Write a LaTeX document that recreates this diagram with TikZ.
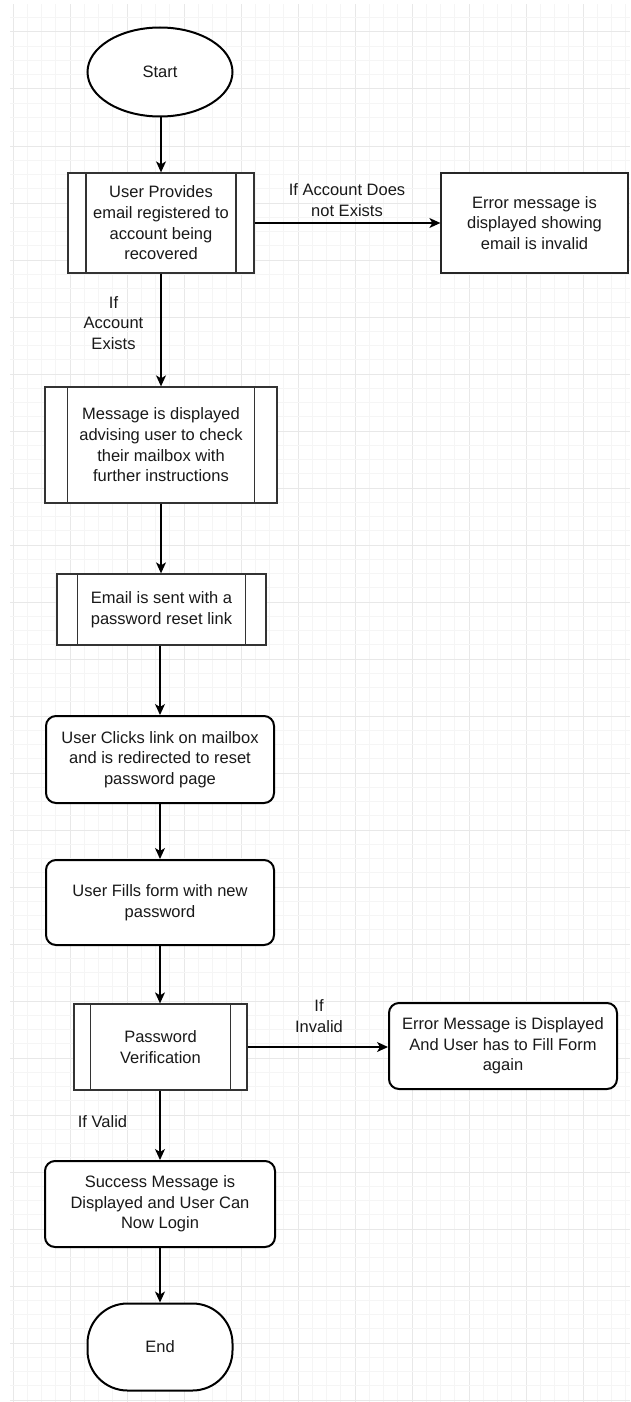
\documentclass[tikz,border=0pt]{standalone}
\usepackage{fontspec}
\setmainfont{Liberation Sans}
\usetikzlibrary{arrows.meta,calc,shapes.geometric}
\tikzset{
  every node/.style={font=\fontsize{16.5}{20.7}\selectfont, text=black!90, align=center, inner sep=0pt},
  minorgrid/.style={draw=black!4, line width=0.8pt},
  majorgrid/.style={draw=black!9, line width=1pt},
  procbox/.style={draw=black!80, line width=1.3pt, fill=white, rectangle},
  roundbox/.style={draw=black, line width=2pt, fill=white, rectangle, rounded corners=10pt},
  plainbox/.style={draw=black!85, line width=1.3pt, fill=white, rectangle},
  termstart/.style={draw=black, line width=2pt, fill=white, ellipse},
  termend/.style={draw=black, line width=2pt, fill=white, rectangle, rounded corners=40pt},
  flow/.style={draw=black, line width=1.3pt, -{Stealth[length=11pt,width=10pt,inset=3pt]}},
  bar/.style={draw=black!80, line width=1.3pt},
  lbl/.style={fill=none}
}
\newcommand{\procbars}[2]{%
  \draw[bar] ($(#1.north west)+(#2,0)$) -- ($(#1.south west)+(#2,0)$);
  \draw[bar] ($(#1.north east)+(-#2,0)$) -- ($(#1.south east)+(-#2,0)$);
}
\begin{document}
\begin{tikzpicture}[x=1pt,y=-1pt]
\useasboundingbox (0,0) rectangle (630,1402);
\fill[white] (0,0) rectangle (630,1402);
% grid
\begin{scope}
\clip (10,5) rectangle (630,1402);
\foreach \i in {0,...,43} {
  \pgfmathsetmacro{\xx}{13+14.25*\i}
  \pgfmathtruncatemacro{\m}{mod(\i,4)}
  \ifnum\m=0 \draw[majorgrid] (\xx,0) -- (\xx,1402);
  \else \draw[minorgrid] (\xx,0) -- (\xx,1402); \fi
}
\foreach \i in {0,...,98} {
  \pgfmathsetmacro{\yy}{3.5+14.25*\i}
  \pgfmathtruncatemacro{\m}{mod(\i+2,4)}
  \ifnum\m=0 \draw[majorgrid] (0,\yy) -- (630,\yy);
  \else \draw[minorgrid] (0,\yy) -- (630,\yy); \fi
}
\end{scope}

% nodes
\node[termstart, minimum width=145pt, minimum height=89pt] (start) at (160,72) {Start};
\node[procbox, minimum width=186pt, minimum height=100pt] (b1) at (161,223) {User Provides\\email registered to\\account being\\recovered};
\procbars{b1}{18.6}
\node[plainbox, minimum width=187pt, minimum height=100pt] (err1) at (534.5,223) {Error message is\\displayed showing\\email is invalid};
\node[procbox, minimum width=232pt, minimum height=116pt] (b2) at (161,445) {Message is displayed\\advising user to check\\their mailbox with\\further instructions};
\procbars{b2}{23.2}
\node[procbox, minimum width=209pt, minimum height=71pt] (b3) at (161.5,609.5) {Email is sent with a\\password reset link};
\procbars{b3}{20.9}
\node[roundbox, minimum width=228pt, minimum height=87pt] (b4) at (160,759.5) {User Clicks link on mailbox\\and is redirected to reset\\password page};
\node[roundbox, minimum width=228pt, minimum height=85pt] (b5) at (160,902.5) {User Fills form with new\\password};
\node[procbox, minimum width=173pt, minimum height=86pt] (b6) at (160.5,1047) {Password\\Verification};
\procbars{b6}{17.3}
\node[roundbox, minimum width=228pt, minimum height=86pt] (err2) at (503,1046) {Error Message is Displayed\\And User has to Fill Form\\again};
\node[roundbox, minimum width=230pt, minimum height=86pt] (b7) at (160,1204) {Success Message is\\Displayed and User Can\\Now Login};
\node[termend, minimum width=145pt, minimum height=87pt] (end) at (160,1347) {End};

% connectors
\draw[flow] (start.south -| b1.north) -- (b1.north);
\draw[flow] (b1.east) -- (err1.west);
\draw[flow] (b1.south) -- (b2.north);
\draw[flow] (b2.south) -- (b3.north -| b2.south);
\draw[flow] (b3.south -| b4.north) -- (b4.north);
\draw[flow] (b4.south) -- (b5.north);
\draw[flow] (b5.south) -- (b6.north -| b5.south);
\draw[flow] (b6.east) -- (err2.west |- b6.east);
\draw[flow] (b6.south -| b7.north) -- (b7.north);
\draw[flow] (b7.south) -- (end.north);

% labels
\node[lbl] (l1) at (347,200) {If Account Does\\not Exists};
\node[lbl] (l2) at (113.5,323) {If\\Account\\Exists};
\node[lbl] (l3) at (319,1016) {If\\Invalid};
\node[lbl] (l4) at (102.5,1122) {If Valid};
\end{tikzpicture}
\end{document}
